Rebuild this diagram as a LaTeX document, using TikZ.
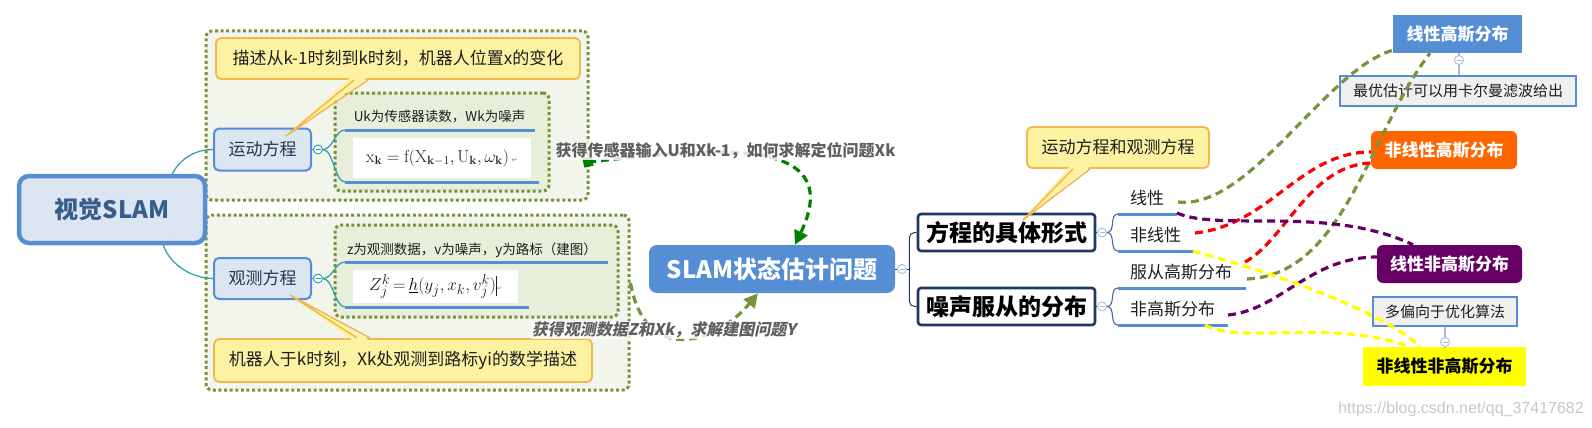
\documentclass[tikz,border=0pt]{standalone}
\usepackage[no-math]{fontspec}
\setmainfont{Noto Sans CJK SC}
\newfontfamily\slfont{Noto Sans CJK SC}[FakeSlant=0.2]
\newfontfamily\wmfont{Liberation Sans}
\newfontfamily\symfont{DejaVu Sans}
\usetikzlibrary{arrows.meta,calc}
\newcommand\setfs[1]{\fontsize{#1}{#1}\selectfont}
\definecolor{bluebd}{HTML}{558ED5}
\definecolor{lbfill}{HTML}{DCE6F2}
\definecolor{vistext}{HTML}{385D8A}
\definecolor{outerfill}{HTML}{F2F5EB}
\definecolor{innerfill}{HTML}{E7EEDA}
\definecolor{dotcol}{HTML}{77933C}
\definecolor{callfill}{HTML}{FCF2A2}
\definecolor{callbd}{HTML}{F2B84B}
\definecolor{tealc}{HTML}{2A9DA8}
\definecolor{navybd}{HTML}{1F3864}
\definecolor{brgray}{HTML}{4A6A95}
\definecolor{circgray}{HTML}{A9BCDD}
\definecolor{labgray}{HTML}{5F5F5F}
\definecolor{boxgray}{HTML}{F0F0F0}
\definecolor{orangeb}{HTML}{FF6600}
\definecolor{purpleb}{HTML}{660066}
\definecolor{yellowb}{HTML}{FFFF00}
\definecolor{redl}{HTML}{FF0000}
\definecolor{greenl}{HTML}{008000}
\definecolor{txtdark}{HTML}{1E1E1E}
\definecolor{topictext}{HTML}{243450}
\begin{document}
\begin{tikzpicture}[x=1pt,y=-1pt,
  every node/.style={inner sep=0pt, text=txtdark},
  dotbox/.style={draw=dotcol, line width=3pt, dash pattern=on 3pt off 2.6pt, rounded corners=6pt},
  topicbox/.style={draw=bluebd, line width=2pt, fill=lbfill, rounded corners=5pt, font=\setfs{17}, text=topictext},
  callout/.style={draw=callbd, line width=1.8pt, fill=callfill, rounded corners=5pt, font=\setfs{17}},
  collapsebtn/.style={circle, draw=#1, fill=white, line width=0.9pt, minimum size=9pt,
     path picture={\draw[#1, line width=0.8pt] ([xshift=-2.5pt]path picture bounding box.center) -- ([xshift=2.5pt]path picture bounding box.center);}},
  ulline/.style={draw=bluebd, line width=3pt},
  subtext/.style={anchor=west, font=\setfs{17}},
  rel/.style={line width=3.2pt, dash pattern=on 8pt off 5pt},
  bigtip/.style={-{Triangle[length=14pt,width=14pt]}},
  graybox/.style={draw=bluebd, line width=2.5pt, fill=boxgray, font=\setfs{15}},
  colbox/.style={text=white, font=\setfs{17}\bfseries},
  navybox/.style={draw=navybd, line width=2.6pt, fill=white, rounded corners=3pt, font=\setfs{23}\bfseries, text=black}
]
\useasboundingbox (0,0) rectangle (1592,428);

% ---------- background dotted boxes ----------
\node[dotbox, fill=outerfill, minimum width=382, minimum height=169] (upbox) at (397,115.5) {};
\node[dotbox, fill=outerfill, minimum width=423, minimum height=175] (lowbox) at (417.5,302.5) {};
\node[dotbox, fill=innerfill, minimum width=214, minimum height=98] (upin) at (442,142) {};
\node[dotbox, fill=innerfill, minimum width=283, minimum height=92] (lowin) at (476.5,271) {};

% ---------- root ----------
\node[draw=bluebd, line width=4.5pt, fill=lbfill, rounded corners=10pt, minimum width=186, minimum height=67,
      text=vistext, font=\setfs{24}\bfseries] (vis) at (112,209.5) {视觉SLAM};

\node[topicbox, minimum width=97, minimum height=42] (motion) at (262.5,149.5) {运动方程};
\node[topicbox, minimum width=97, minimum height=41] (obs) at (262.5,278.5) {观测方程};

\draw[tealc, line width=1.2pt] ($(vis.north east)+(-35,0)$) .. controls +(10,-18) and +(-15,0) .. (motion.west);
\draw[tealc, line width=1.2pt] ($(vis.south east)+(-44,0)$) .. controls +(8,22) and +(-18,0) .. (obs.west);

% motion details
\node[collapsebtn=tealc] (mc) at (318,149.5) {};
\draw[tealc, line width=1pt] (motion.east) -- (mc.west);
\coordinate (ul1) at (345,130);
\coordinate (ul2) at (345,182);
\draw[tealc, line width=1.2pt] (mc.east) .. controls +(10,0) and +(-10,0) .. (ul1);
\draw[tealc, line width=1.2pt] (mc.east) .. controls +(10,0) and +(-10,0) .. (ul2);
\draw[ulline] (ul1) -- ++(190,0);
\draw[ulline] (ul2) -- ++(194,0);
\node[font=\setfs{13.5}] (uk) at (439.5,117) {Uk为传感器读数，Wk为噪声};
\node[fill=white, minimum width=178, minimum height=40, font=\setfs{18}] (f1) at (442,158)
  {$\mathrm{x}_{\mathbf{k}} = \mathrm{f}(\mathrm{X}_{\mathbf{k}-1},\mathrm{U}_{\mathbf{k}},\omega_{\mathbf{k}})$\,{\symfont\setfs{7}\color{gray}↵}};

% observation details
\node[collapsebtn=tealc] (oc) at (318,278.5) {};
\draw[tealc, line width=1pt] (obs.east) -- (oc.west);
\coordinate (ul3) at (345,262);
\coordinate (ul4) at (345,307);
\draw[tealc, line width=1.2pt] (oc.east) .. controls +(10,0) and +(-10,0) .. (ul3);
\draw[tealc, line width=1.2pt] (oc.east) .. controls +(10,0) and +(-10,0) .. (ul4);
\draw[ulline] (ul3) -- ++(263,0);
\draw[ulline] (ul4) -- ++(184,0);
\node[font=\setfs{13.5}] (zd) at (472,250) {z为观测数据，v为噪声，y为路标（建图）};
\node[fill=white, minimum width=165, minimum height=33, font=\setfs{19}] (f2) at (435.5,286.5)
  {$Z_j^k\,{=}\,{\color{bluebd}\underline{\color{black}h}}(y_j,x_k,v_j^k)$\rule[-5pt]{0.7pt}{20pt}{\symfont\setfs{6}\color{gray}↵}};

% callouts left
\node[callout, minimum width=364, minimum height=41] (c1) at (398,58.5) {描述从k-1时刻到k时刻，机器人位置x的变化};
\fill[callfill] (352,76) -- (286,136) -- (370,76) -- cycle;
\draw[callbd, line width=1.5pt] (354,80) -- (286,136) -- (368,80);

\node[callout, minimum width=378, minimum height=43] (c2) at (403,360.5) {机器人于k时刻，Xk处观测到路标yi的数学描述};
\fill[callfill] (355,342) -- (290,295) -- (372,342) -- cycle;
\draw[callbd, line width=1.5pt] (357,338) -- (290,295) -- (370,338);

% ---------- central ----------
\node[fill=bluebd, rounded corners=8pt, minimum width=246, minimum height=48, text=white, font=\setfs{24}\bfseries] (slam) at (772,269) {SLAM状态估计问题};

% green arrow
\node[fill=greenl, rotate=12, minimum size=9.5pt] (gsq) at (588,162) {};
\draw[greenl, rel, bigtip] (gsq.center) .. controls (700,150) and (850,130) .. ($(slam.north)+(23,0)$);
\node[fill=white, fill opacity=0.82, text opacity=1, text=labgray, font=\setfs{16}\bfseries, inner sep=1pt] (glab) at (725.5,151) {获得传感器输入U和Xk-1，如何求解定位问题Xk};

% olive arrow
\draw[dotcol, rel, bigtip] ($(lowbox.east)+(0,-19.5)$) .. controls (645,365) and (715,345) .. ($(slam.south)+(-14,0)$);
\node[fill=white, fill opacity=0.8, text opacity=1, text=labgray, font=\slfont\bfseries\setfs{16}, inner sep=1pt] (olab) at (664,330) {获得观测数据Z和Xk，求解建图问题Y};

% ---------- right tree ----------
\node[navybox, minimum width=177, minimum height=37] (eq) at (1006.5,232.5) {方程的具体形式};
\node[navybox, minimum width=177, minimum height=37] (noise) at (1006.5,306.5) {噪声服从的分布};
\node[collapsebtn=circgray] (sc) at (902,269) {};
\draw[navybd, line width=1pt] (slam.east) -- (sc.west);
\draw[navybd, line width=1pt] (sc.east) -- ++(2.5,0);
\draw[navybd, line width=1pt, rounded corners=5pt] (eq.west) -| ($(sc.east)+(2.5,0)$) |- (noise.west);

\node[callout, minimum width=182, minimum height=41] (c3) at (1118,147.5) {运动方程和观测方程};
\fill[callfill] (1071,165) -- (1023,220) -- (1092,165) -- cycle;
\draw[callbd, line width=1.5pt] (1073,169) -- (1023,220) -- (1090,169);

\node[collapsebtn=circgray] (ec) at (1102,232.5) {};
\node[collapsebtn=circgray] (nc) at (1102,306.5) {};
\draw[navybd, line width=1pt] (eq.east) -- (ec.west);
\draw[navybd, line width=1pt] (noise.east) -- (nc.west);
\coordinate (u5) at (1118,214);
\coordinate (u6) at (1118,251);
\coordinate (u7) at (1118,288);
\coordinate (u8) at (1118,325);
\foreach \c/\e in {u5/ec,u6/ec,u7/nc,u8/nc}
  \draw[brgray, line width=1.1pt] (\e.east) .. controls +(9,0) and +(-9,0) .. (\c);
\draw[ulline] (u5) -- ++(59,0);
\draw[ulline] (u6) -- ++(77,0);
\draw[ulline] (u7) -- ++(128,0);
\draw[ulline] (u8) -- ++(110,0);
\node[subtext] (lin) at (1130,198) {线性};
\node[subtext] (nlin) at (1130,235) {非线性};
\node[subtext] (gau) at (1130,272) {服从高斯分布};
\node[subtext] (ngau) at (1130,309) {非高斯分布};

% right result boxes
\node[colbox, fill=bluebd, minimum width=129, minimum height=38] (lg) at (1457.5,34) {线性高斯分布};
\node[graybox, minimum width=236, minimum height=30] (kal) at (1458,91) {最优估计可以用卡尔曼滤波给出};
\node[collapsebtn=circgray] (lgc) at (1459,60) {};
\draw[circgray, line width=1.2pt] (lgc.north) -- (lgc.north |- lg.south);
\draw[circgray, line width=1.2pt] (lgc.south) -- (lgc.south |- kal.north);

\node[colbox, fill=orangeb, rounded corners=6pt, minimum width=146, minimum height=38] (nlg) at (1444,150) {非线性高斯分布};
\node[colbox, fill=purpleb, rounded corners=6pt, minimum width=145, minimum height=38] (lng) at (1449.5,264) {线性非高斯分布};
\node[graybox, minimum width=144, minimum height=29] (opt) at (1445,311.5) {多偏向于优化算法};
\node[fill=yellowb, minimum width=163, minimum height=39, font=\setfs{17}\bfseries, text=black] (nlng) at (1444.5,366.5) {非线性非高斯分布};
\node[collapsebtn=circgray] (nlc) at (1445,342) {};
\draw[circgray, line width=1.2pt] (nlc.north) -- (nlc.north |- opt.south);
\draw[circgray, line width=1.2pt] (nlc.south) -- (nlc.south |- nlng.north);

% relationship start points
\coordinate (s-lin) at (1178,202);
\coordinate (s-linu) at (1177,213);
\coordinate (s-nlin) at (1195,233);
\coordinate (s-nlinu) at (1193,251);
\coordinate (s-gau) at (1247,279);
\coordinate (s-gau2) at (1245,262);
\coordinate (s-ngau) at (1228,315);
\coordinate (s-ngauu) at (1205,325);

\draw[dotcol, rel] (s-lin) .. controls (1250,210) and (1325,70) .. ($(lg.south west)+(0,-3)$);
\draw[dotcol, rel] (s-gau) .. controls (1345,275) and (1370,130) .. ($(lg.south)+(-27.5,0)$);
\draw[redl, rel] (s-nlin) .. controls (1270,225) and (1300,152) .. ($(nlg.west)+(0,2)$);
\draw[redl, rel] (s-gau2) .. controls (1285,240) and (1310,165) .. ($(nlg.west)+(0,13)$);
\draw[purpleb, rel] (s-linu) .. controls (1220,232) and (1330,205) .. ($(lng.north)+(-36.5,0)$);
\draw[purpleb, rel] (s-ngau) .. controls (1280,310) and (1310,257) .. ($(lng.west)+(0,-7)$);
\draw[yellowb, rel] (s-nlinu) .. controls (1280,275) and (1380,310) .. ($(nlng.north)+(-24.5,0)$);
\draw[yellowb, rel] (s-ngauu) .. controls (1240,345) and (1330,318) .. ($(nlng.north)+(-34.5,0)$);

% watermark
\node[text=black!22, font=\wmfont\setfs{16}] (wm) at (1461,409) {https://blog.csdn.net/qq\_37417682};
\end{tikzpicture}
\end{document}
